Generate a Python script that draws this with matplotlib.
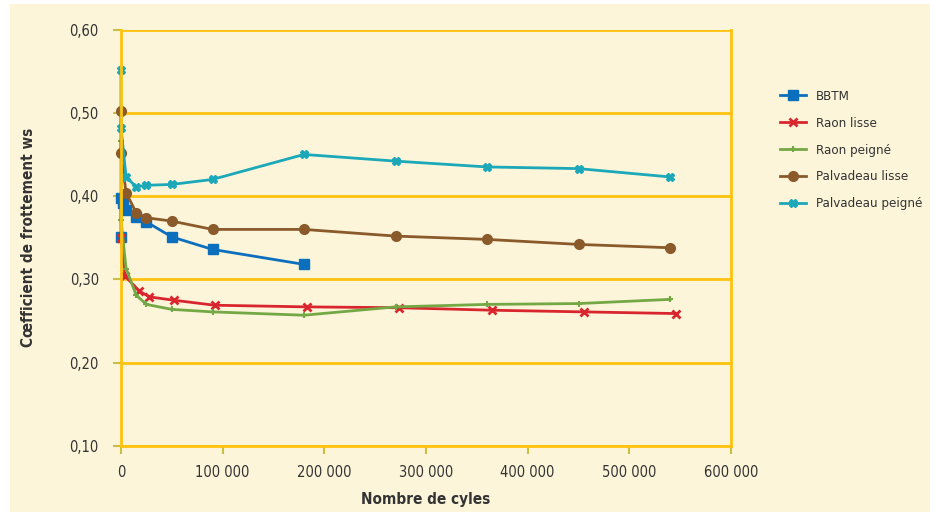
import matplotlib.pyplot as plt
from matplotlib.patches import Rectangle
from matplotlib.ticker import FuncFormatter

plt.rcParams['font.family'] = ['DejaVu Sans']
plt.rcParams['font.stretch'] = 'condensed'

# data
bbtm_x = [0, 0, 2000, 5000, 15000, 25000, 50000, 90000, 180000]
bbtm_y = [0.351, 0.398, 0.392, 0.383, 0.375, 0.369, 0.351, 0.336, 0.318]

raon_lisse_x = [0, 4000, 18000, 28000, 52000, 92000, 183000, 273000, 365000, 455000, 546000]
raon_lisse_y = [0.350, 0.304, 0.286, 0.279, 0.275, 0.269, 0.267, 0.266, 0.263, 0.261, 0.259]

raon_peigne_x = [0, 0, 5000, 15000, 25000, 50000, 90000, 180000, 270000, 360000, 450000, 540000]
raon_peigne_y = [0.466, 0.371, 0.313, 0.281, 0.270, 0.264, 0.261, 0.257, 0.267, 0.270, 0.271, 0.276]

palv_lisse_x = [0, 0, 5000, 15000, 25000, 50000, 90000, 180000, 270000, 360000, 450000, 540000]
palv_lisse_y = [0.502, 0.452, 0.404, 0.380, 0.374, 0.370, 0.360, 0.360, 0.352, 0.348, 0.342, 0.338]

palv_peigne_x = [0, 0, 5000, 15000, 25000, 50000, 90000, 180000, 270000, 360000, 450000, 540000]
palv_peigne_y = [0.551, 0.482, 0.423, 0.411, 0.413, 0.414, 0.420, 0.450, 0.442, 0.435, 0.433, 0.423]

y_ticks = [0.1, 0.2, 0.3, 0.4, 0.5, 0.6]
x_ticks = [0, 100000, 200000, 300000, 400000, 500000, 600000]

cream = '#fcf5da'
orange = '#ffc20e'
olive = '#c9bf45'
text_col = '#333333'

fig = plt.figure(figsize=(9.36, 5.12), dpi=100, facecolor='white')
fig.patches.append(Rectangle((10 / 936, 0), 920 / 936, 508 / 512,
                             transform=fig.transFigure, facecolor=cream,
                             edgecolor='none', zorder=-5))

ax = fig.add_axes([121 / 936, 1 - 446 / 512, 610 / 936, 416.5 / 512])
ax.set_zorder(2)
ax.set_facecolor(cream)

# series
ax.plot(bbtm_x, bbtm_y, color='#0b6fbd', lw=2, marker='s', ms=7,
        label='BBTM', clip_on=False)
ax.plot(raon_lisse_x, raon_lisse_y, color='#d9262e', lw=2, marker='x', ms=6,
        mew=2, label='Raon lisse', clip_on=False)
ax.plot(raon_peigne_x, raon_peigne_y, color='#74a845', lw=2, marker='+', ms=5,
        mew=1.5, label='Raon peigné', clip_on=False)
ax.plot(palv_lisse_x, palv_lisse_y, color='#8a5a2a', lw=2, marker='o', ms=7,
        label='Palvadeau lisse', clip_on=False)
ax.plot(palv_peigne_x, palv_peigne_y, color='#1ba8b8', lw=2, marker='X', ms=6,
        label='Palvadeau peigné', clip_on=False)

ax.set_xlim(0, 600000)
ax.set_ylim(0.1, 0.6)
ax.set_xticks(x_ticks)
ax.set_yticks(y_ticks)
ax.xaxis.set_major_formatter(FuncFormatter(lambda v, p: f'{int(v):,}'.replace(',', ' ')))
ax.yaxis.set_major_formatter(FuncFormatter(lambda v, p: f'{v:.2f}'.replace('.', ',')))

# gridlines and frame
ax.set_axisbelow(True)
ax.yaxis.grid(True, color=orange, lw=2)
ax.spines['top'].set_visible(False)
for side in ['left', 'bottom', 'right']:
    ax.spines[side].set_color(orange)
    ax.spines[side].set_linewidth(2)

ax.tick_params(axis='both', colors=olive, length=6, width=1.5,
               labelcolor=text_col, labelsize=10.5)
ax.tick_params(axis='x', pad=8)
ax.tick_params(axis='y', pad=10)

ax.set_xlabel('Nombre de cyles', fontsize=11, fontweight='bold',
              color=text_col, labelpad=8)
ax.set_ylabel('Cœfficient de frottement ws', fontsize=11, fontweight='bold',
              color=text_col, labelpad=24)

fig.legend(loc='upper left', bbox_to_anchor=(768 / 936, 1 - 78 / 512),
           frameon=False, fontsize=9.5, labelcolor=text_col,
           handlelength=2.0, labelspacing=1.05, handletextpad=0.7)

fig.savefig('out.png', dpi=100, facecolor=fig.get_facecolor())
